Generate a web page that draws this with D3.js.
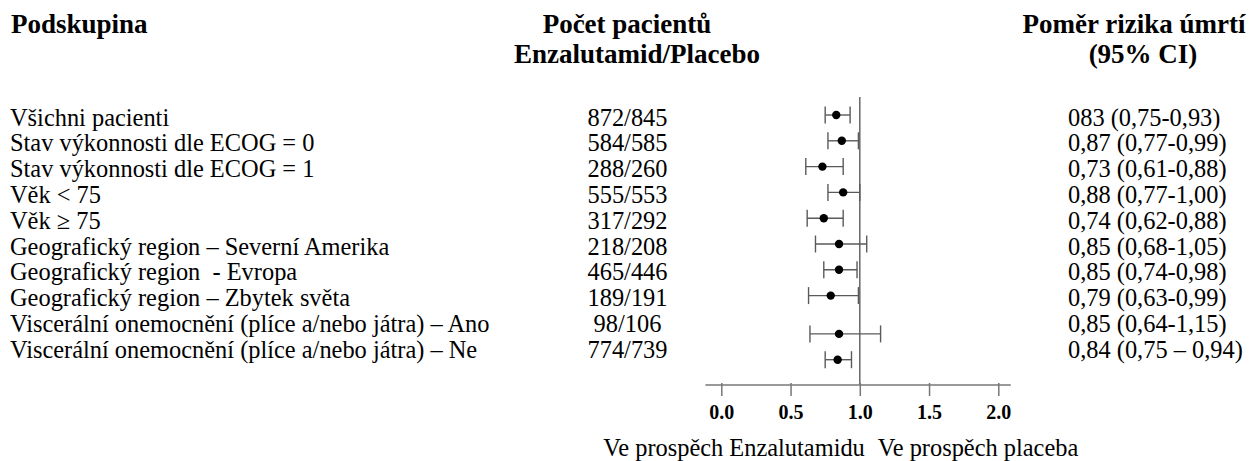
<!DOCTYPE html>
<html>
<head>
<meta charset="utf-8">
<script src="https://cdn.jsdelivr.net/npm/d3@7"></script>
<style>
  html, body { margin: 0; padding: 0; background: #fff; }
  svg { display: block; }
  svg text { font-family: "Liberation Serif", "Times New Roman", serif; fill: #000; }
</style>
</head>
<body>
<svg id="chart" width="1254" height="461"></svg>
<script>
// ---- data ----
const subgroups = [
  "Všichni pacienti",
  "Stav výkonnosti dle ECOG = 0",
  "Stav výkonnosti dle ECOG = 1",
  "Věk < 75",
  "Věk ≥ 75",
  "Geografický region – Severní Amerika",
  "Geografický region  - Evropa",
  "Geografický region – Zbytek světa",
  "Viscerální onemocnění (plíce a/nebo játra) – Ano",
  "Viscerální onemocnění (plíce a/nebo játra) – Ne"
];
const patientCounts = ["872/845","584/585","288/260","555/553","317/292","218/208","465/446","189/191","98/106","774/739"];
const hazardRatio = [0.83, 0.87, 0.73, 0.88, 0.74, 0.85, 0.85, 0.79, 0.85, 0.84];
const ciLower     = [0.75, 0.77, 0.61, 0.77, 0.62, 0.68, 0.74, 0.63, 0.64, 0.75];
const ciUpper     = [0.93, 0.99, 0.88, 1.00, 0.88, 1.05, 0.98, 0.99, 1.15, 0.94];
const hrLabels = [
  "083 (0,75-0,93)", "0,87 (0,77-0,99)", "0,73 (0,61-0,88)", "0,88 (0,77-1,00)",
  "0,74 (0,62-0,88)", "0,85 (0,68-1,05)", "0,85 (0,74-0,98)", "0,79 (0,63-0,99)",
  "0,85 (0,64-1,15)", "0,84 (0,75 – 0,94)"
];
const tickValues = [0, 0.5, 1.0, 1.5, 2.0];
const headerSubgroup = "Podskupina";
const headerCounts = ["Počet pacientů", "Enzalutamid/Placebo"];
const headerHR = ["Poměr rizika úmrtí", "(95% CI)"];
const favourLeft = "Ve prospěch Enzalutamidu";
const favourRight = "Ve prospěch placeba";

// ---- layout ----
const FONT = "'Liberation Serif', 'Times New Roman', serif";
const BODY_SIZE = 24.4;
const svg = d3.select("#chart");
const x = d3.scaleLinear().domain([0, 2]).range([721.3, 998.3]);
const idx = d3.range(subgroups.length);
const rowCenter = d3.scaleLinear().domain([0, 9]).range([117.5, 349.7]);
const baselineShift = 8;
const markY = i => rowCenter(i) + (i >= 8 ? 10 : -2.5);
const axisY = 385;
const lineGray = "#5a5a5a";

// headers
const hdr = svg.append("g").attr("font-family", FONT).attr("font-weight", "bold").attr("font-size", 27);
hdr.append("text").attr("x", 11).attr("y", 33).text(headerSubgroup);
hdr.append("text").attr("x", 627).attr("y", 33).attr("text-anchor", "middle").text(headerCounts[0]);
hdr.append("text").attr("x", 637).attr("y", 63).attr("text-anchor", "middle").text(headerCounts[1]);
hdr.append("text").attr("x", 1134).attr("y", 33).attr("text-anchor", "middle").text(headerHR[0]);
hdr.append("text").attr("x", 1143).attr("y", 63).attr("text-anchor", "middle").text(headerHR[1]);

// table rows
const body = svg.append("g").attr("font-family", FONT).attr("font-size", BODY_SIZE);
body.selectAll("text.sub").data(idx).join("text")
  .attr("class", "sub").attr("x", 10)
  .attr("y", i => rowCenter(i) + baselineShift)
  .style("white-space", "pre")
  .text(i => subgroups[i]);
body.selectAll("text.cnt").data(idx).join("text")
  .attr("class", "cnt").attr("x", 627.5).attr("text-anchor", "middle")
  .attr("y", i => rowCenter(i) + baselineShift)
  .text(i => patientCounts[i]);
body.selectAll("text.hr").data(idx).join("text")
  .attr("class", "hr").attr("x", 1068)
  .attr("y", i => rowCenter(i) + baselineShift)
  .style("white-space", "pre")
  .text(i => hrLabels[i]);

// reference line at HR = 1
svg.append("line")
  .attr("x1", x(1)).attr("x2", x(1))
  .attr("y1", 97).attr("y2", axisY)
  .attr("stroke", "#666").attr("stroke-width", 1.5);

// error bars
const bars = svg.append("g").attr("stroke", lineGray).attr("stroke-width", 1.4);
bars.selectAll("line.ci").data(idx).join("line")
  .attr("class", "ci")
  .attr("x1", i => x(ciLower[i])).attr("x2", i => x(ciUpper[i]))
  .attr("y1", markY).attr("y2", markY);
const capH = 8.5;
bars.selectAll("line.capL").data(idx).join("line")
  .attr("class", "capL")
  .attr("x1", i => x(ciLower[i])).attr("x2", i => x(ciLower[i]))
  .attr("y1", i => markY(i) - capH).attr("y2", i => markY(i) + capH);
bars.selectAll("line.capR").data(idx).join("line")
  .attr("class", "capR")
  .attr("x1", i => x(ciUpper[i])).attr("x2", i => x(ciUpper[i]))
  .attr("y1", i => markY(i) - capH).attr("y2", i => markY(i) + capH);

// point estimates
svg.append("g").selectAll("circle").data(idx).join("circle")
  .attr("cx", i => x(hazardRatio[i])).attr("cy", markY)
  .attr("r", 4.2).attr("fill", "#000");

// x axis
const axis = d3.axisBottom(x).tickValues(tickValues).tickSize(11).tickPadding(9)
  .tickFormat(d3.format(".1f"));
const ag = svg.append("g").attr("transform", `translate(0,${axisY})`).call(axis);
ag.select(".domain").remove();
ag.append("line")
  .attr("x1", x(-0.115)).attr("x2", x(2.09))
  .attr("stroke", "#777").attr("stroke-width", 1.5);
ag.selectAll(".tick line").attr("stroke", "#777").attr("stroke-width", 1.5).attr("y1", -2);
ag.selectAll(".tick text")
  .attr("font-family", FONT)
  .attr("font-size", 20).attr("font-weight", "bold").attr("fill", "#000");

// favour labels
const fav = svg.append("g").attr("font-family", FONT).attr("font-size", BODY_SIZE);
fav.append("text").attr("x", x(1) + 5).attr("y", 456).attr("text-anchor", "end").text(favourLeft);
fav.append("text").attr("x", x(1) + 18).attr("y", 456).text(favourRight);
</script>
</body>
</html>
